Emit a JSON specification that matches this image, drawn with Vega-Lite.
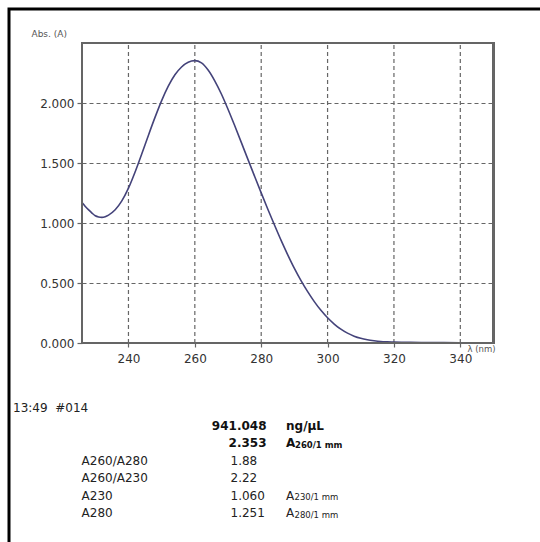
{
  "$schema": "https://vega.github.io/schema/vega-lite/v6.json",
  "width": 531,
  "height": 533,
  "autosize": {"type": "none"},
  "padding": {"left": 9, "top": 9, "right": 0, "bottom": 0},
  "background": "white",
  "view": {"stroke": "black", "strokeWidth": 3, "strokeDash": [531, 1064, 533]},
  "config": {"font": "DejaVu Sans"},
  "datasets": {
    "spectrum": [
      {"nm": 226, "A": 1.170}, {"nm": 227, "A": 1.138}, {"nm": 228, "A": 1.109},
      {"nm": 229, "A": 1.083}, {"nm": 230, "A": 1.060}, {"nm": 231, "A": 1.050},
      {"nm": 232, "A": 1.047}, {"nm": 233, "A": 1.053}, {"nm": 234, "A": 1.066},
      {"nm": 236, "A": 1.110}, {"nm": 238, "A": 1.184}, {"nm": 240, "A": 1.290},
      {"nm": 242, "A": 1.425}, {"nm": 244, "A": 1.575}, {"nm": 246, "A": 1.730},
      {"nm": 248, "A": 1.880}, {"nm": 250, "A": 2.020}, {"nm": 252, "A": 2.140},
      {"nm": 254, "A": 2.235}, {"nm": 256, "A": 2.300}, {"nm": 258, "A": 2.340},
      {"nm": 260, "A": 2.353}, {"nm": 262, "A": 2.335}, {"nm": 264, "A": 2.275},
      {"nm": 266, "A": 2.185}, {"nm": 268, "A": 2.075}, {"nm": 270, "A": 1.948},
      {"nm": 272, "A": 1.812}, {"nm": 274, "A": 1.672}, {"nm": 276, "A": 1.530},
      {"nm": 278, "A": 1.390}, {"nm": 280, "A": 1.251}, {"nm": 282, "A": 1.115},
      {"nm": 284, "A": 0.983}, {"nm": 286, "A": 0.855}, {"nm": 288, "A": 0.735},
      {"nm": 290, "A": 0.622}, {"nm": 292, "A": 0.520}, {"nm": 294, "A": 0.428},
      {"nm": 296, "A": 0.345}, {"nm": 298, "A": 0.272}, {"nm": 300, "A": 0.210},
      {"nm": 302, "A": 0.158}, {"nm": 304, "A": 0.115}, {"nm": 306, "A": 0.082},
      {"nm": 308, "A": 0.057}, {"nm": 310, "A": 0.039}, {"nm": 312, "A": 0.027},
      {"nm": 314, "A": 0.019}, {"nm": 316, "A": 0.013}, {"nm": 318, "A": 0.010},
      {"nm": 320, "A": 0.008}, {"nm": 325, "A": 0.005}, {"nm": 330, "A": 0.004},
      {"nm": 335, "A": 0.003}, {"nm": 340, "A": 0.002}, {"nm": 345, "A": 0.001},
      {"nm": 350, "A": 0.001}
    ],
    "readout": [
      {"row": "stamp", "label": "13:49\u00a0\u00a0#014"},
      {"row": "conc", "value": "941.048", "unit": "ng/µL"},
      {"row": "a260", "value": "2.353", "unit": "A", "sub": "260/1 mm"},
      {"row": "r280", "label": "A260/A280", "value": "1.88"},
      {"row": "r230", "label": "A260/A230", "value": "2.22"},
      {"row": "a230", "label": "A230", "value": "1.060", "unit": "A", "sub": "230/1 mm"},
      {"row": "a280", "label": "A280", "value": "1.251", "unit": "A", "sub": "280/1 mm"}
    ]
  },
  "layer": [
    {
      "data": {"name": "spectrum"},
      "layer": [
        {
          "transform": [{"filter": "datum.nm >= 240 && datum.nm <= 340 && datum.nm % 20 === 0"}],
          "mark": {"type": "rule", "stroke": "#666", "strokeWidth": 1.2, "strokeDash": [4, 3]},
          "encoding": {
            "x": {"field": "nm", "type": "quantitative"},
            "y": {"datum": 0, "type": "quantitative"},
            "y2": {"datum": 2.5}
          }
        },
        {
          "mark": {"type": "line", "stroke": "#44437a", "strokeWidth": 1.6, "interpolate": "monotone"},
          "encoding": {
            "x": {
              "field": "nm", "type": "quantitative",
              "scale": {"domain": [226, 350], "range": [73, 484.5], "nice": false, "zero": false},
              "axis": {
                "orient": "bottom", "offset": -199,
                "values": [240, 260, 280, 300, 320, 340], "format": "d",
                "domain": false, "grid": false,
                "ticks": true, "tickSize": 4, "tickColor": "#666", "tickWidth": 1.2,
                "labelFont": "DejaVu Sans", "labelFontSize": 12, "labelColor": "#333", "labelPadding": 6,
                "labelFlush": false, "labelOverlap": false,
                "title": "λ (nm)", "titleFont": "DejaVu Sans", "titleFontSize": 8.5, "titleFontWeight": "normal",
                "titleColor": "#555", "titleX": 486, "titleY": 5, "titleAlign": "right", "titleBaseline": "middle"
              }
            },
            "y": {
              "field": "A", "type": "quantitative",
              "scale": {"domain": [0, 2.5], "range": [334, 34], "nice": false, "zero": false},
              "axis": {
                "orient": "left", "offset": -73,
                "values": [0, 0.5, 1, 1.5, 2], "format": ".3f",
                "domain": false,
                "grid": true, "gridColor": "#666", "gridDash": [4, 3], "gridWidth": 1.2, "gridOpacity": 1,
                "ticks": true, "tickSize": 5, "tickColor": "#666", "tickWidth": 1.2,
                "labelFont": "DejaVu Sans", "labelFontSize": 12, "labelColor": "#333", "labelPadding": 3,
                "title": "Abs. (A)", "titleFont": "DejaVu Sans", "titleFontSize": 9, "titleFontWeight": "normal",
                "titleColor": "#555", "titleAngle": 0, "titleX": -51, "titleY": 24,
                "titleAlign": "left", "titleBaseline": "middle"
              }
            }
          }
        },
        {
          "mark": {"type": "rect", "fill": null, "stroke": "#666", "strokeWidth": 1.5},
          "encoding": {
            "x": {"datum": 226, "type": "quantitative"},
            "x2": {"datum": 350},
            "y": {"datum": 0, "type": "quantitative"},
            "y2": {"datum": 2.5}
          }
        }
      ]
    },
    {
      "data": {"name": "readout"},
      "encoding": {
        "y": {
          "field": "row", "type": "nominal", "axis": null,
          "scale": {"type": "point", "domain": ["stamp", "conc", "a260", "r280", "r230", "a230", "a280"], "range": [399, 504], "padding": 0}
        }
      },
      "layer": [
        {
          "transform": [{"filter": "datum.row === 'stamp'"}],
          "mark": {"type": "text", "align": "left", "baseline": "middle", "font": "DejaVu Sans", "fontSize": 12, "fill": "#222"},
          "encoding": {
            "x": {"datum": "time", "type": "nominal", "axis": null, "scale": {"type": "point", "domain": ["time", "label", "value", "unit"], "range": [4, 277], "padding": 0}},
            "text": {"field": "label"}
          }
        },
        {
          "transform": [{"filter": "datum.row !== 'stamp' && isValid(datum.label)"}],
          "mark": {"type": "text", "align": "left", "baseline": "middle", "dx": -22.4, "font": "DejaVu Sans", "fontSize": 12, "fill": "#222"},
          "encoding": {
            "x": {"datum": "label", "type": "nominal", "axis": null, "scale": {"type": "point", "domain": ["time", "label", "value", "unit"], "range": [4, 277], "padding": 0}},
            "text": {"field": "label"}
          }
        },
        {
          "transform": [{"filter": "datum.row === 'conc' || datum.row === 'a260'"}],
          "mark": {"type": "text", "align": "right", "baseline": "middle", "dx": 71.5, "font": "DejaVu Sans", "fontSize": 12, "fontWeight": "bold", "fill": "#111"},
          "encoding": {
            "x": {"datum": "value", "type": "nominal", "axis": null, "scale": {"type": "point", "domain": ["time", "label", "value", "unit"], "range": [4, 277], "padding": 0}},
            "text": {"field": "value"}
          }
        },
        {
          "transform": [{"filter": "datum.row !== 'conc' && datum.row !== 'a260' && isValid(datum.value)"}],
          "mark": {"type": "text", "align": "left", "baseline": "middle", "dx": 35.5, "font": "DejaVu Sans", "fontSize": 12, "fill": "#222"},
          "encoding": {
            "x": {"datum": "value", "type": "nominal", "axis": null, "scale": {"type": "point", "domain": ["time", "label", "value", "unit"], "range": [4, 277], "padding": 0}},
            "text": {"field": "value"}
          }
        },
        {
          "transform": [{"filter": "datum.row === 'conc' || datum.row === 'a260'"}],
          "mark": {"type": "text", "align": "left", "baseline": "middle", "font": "DejaVu Sans", "fontSize": 12, "fontWeight": "bold", "fill": "#111"},
          "encoding": {
            "x": {"datum": "unit", "type": "nominal", "axis": null, "scale": {"type": "point", "domain": ["time", "label", "value", "unit"], "range": [4, 277], "padding": 0}},
            "text": {"field": "unit"}
          }
        },
        {
          "transform": [{"filter": "datum.row === 'a230' || datum.row === 'a280'"}],
          "mark": {"type": "text", "align": "left", "baseline": "middle", "font": "DejaVu Sans", "fontSize": 12, "fill": "#222"},
          "encoding": {
            "x": {"datum": "unit", "type": "nominal", "axis": null, "scale": {"type": "point", "domain": ["time", "label", "value", "unit"], "range": [4, 277], "padding": 0}},
            "text": {"field": "unit"}
          }
        },
        {
          "transform": [{"filter": "datum.row === 'a260'"}],
          "mark": {"type": "text", "align": "left", "baseline": "middle", "dx": 9, "dy": 1.5, "font": "DejaVu Sans", "fontSize": 8.5, "fontWeight": "bold", "fill": "#111"},
          "encoding": {
            "x": {"datum": "unit", "type": "nominal", "axis": null, "scale": {"type": "point", "domain": ["time", "label", "value", "unit"], "range": [4, 277], "padding": 0}},
            "text": {"field": "sub"}
          }
        },
        {
          "transform": [{"filter": "datum.row === 'a230' || datum.row === 'a280'"}],
          "mark": {"type": "text", "align": "left", "baseline": "middle", "dx": 8.5, "dy": 1.5, "font": "DejaVu Sans", "fontSize": 8.5, "fill": "#222"},
          "encoding": {
            "x": {"datum": "unit", "type": "nominal", "axis": null, "scale": {"type": "point", "domain": ["time", "label", "value", "unit"], "range": [4, 277], "padding": 0}},
            "text": {"field": "sub"}
          }
        }
      ]
    }
  ],
  "resolve": {"scale": {"x": "independent", "y": "independent"}}
}
